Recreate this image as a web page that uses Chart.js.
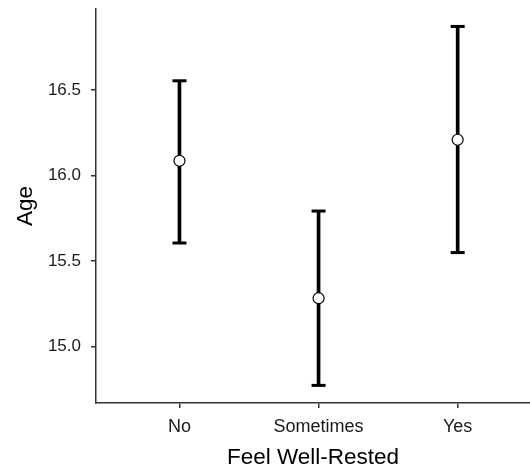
<!DOCTYPE html>
<html>
<head>
<meta charset="utf-8">
<script src="https://cdn.jsdelivr.net/npm/chart.js@4/dist/chart.umd.min.js"></script>
<style>
  html, body { margin: 0; padding: 0; background: #fff; }
  canvas { display: block; }
</style>
</head>
<body>
<canvas id="ageChart" width="530" height="471"></canvas>
<script>
// mean age with confidence interval per answer
const categories = ['No', 'Sometimes', 'Yes'];
const meanAge = [16.086, 15.282, 16.209];
const lowerCI = [15.605, 14.772, 15.549];
const upperCI = [16.554, 15.792, 16.872];
const yTicks = [15.0, 15.5, 16.0, 16.5];

const fontFamily = "'Liberation Sans', Arial, Helvetica, sans-serif";
const axisColor = '#333333';

function toPoints(values) {
    return values.map((v, i) => ({ x: i + 1, y: v }));
}

const ranges = categories.map((c, i) => ({ x: i + 1, y: [lowerCI[i], upperCI[i]] }));

const dataset = {
    datasets: [
        {
            type: 'scatter',
            label: 'mean',
            data: toPoints(meanAge),
            pointStyle: 'circle',
            pointRadius: 5.5,
            pointBackgroundColor: '#ffffff',
            pointBorderColor: '#000000',
            pointBorderWidth: 1.2,
            order: 0
        },
        {
            type: 'scatter',
            label: 'caps',
            data: toPoints(lowerCI).concat(toPoints(upperCI)),
            pointStyle: 'line',
            pointRadius: 7,
            pointBorderColor: '#000000',
            pointBorderWidth: 3,
            order: 1
        },
        {
            type: 'bar',
            label: 'ci',
            data: ranges,
            backgroundColor: '#000000',
            borderWidth: 0,
            barThickness: 3,
            order: 2
        }
    ]
};

const config = {
    type: 'scatter',
    data: dataset,
    options: {
        responsive: false,
        animation: false,
        layout: { autoPadding: false, padding: { top: 9, right: 0, left: 0, bottom: 0 } },
        plugins: {
            legend: { display: false },
            tooltip: { enabled: false }
        },
        scales: {
            x: {
                type: 'linear',
                min: 0.4,
                max: 3.52,
                offset: false,
                afterBuildTicks: (scale) => {
                    scale.ticks = categories.map((c, i) => ({ value: i + 1 }));
                },
                afterFit: (scale) => {
                    scale.height = 68;
                    scale.paddingLeft = 0;
                    scale.paddingRight = 0;
                },
                grid: {
                    offset: false,
                    drawOnChartArea: false,
                    drawTicks: true,
                    tickLength: 5,
                    color: axisColor,
                    lineWidth: 1.5
                },
                border: { display: true, color: axisColor, width: 1.5 },
                ticks: {
                    padding: 8,
                    color: '#1a1a1a',
                    font: { family: fontFamily, size: 18 },
                    maxRotation: 0,
                    autoSkip: false,
                    callback: (value) => categories[Math.round(value) - 1]
                },
                title: {
                    display: true,
                    text: 'Feel Well-Rested',
                    color: '#000000',
                    font: { family: fontFamily, size: 22.5, lineHeight: 1.2 },
                    padding: { top: 0, bottom: 0 }
                }
            },
            y: {
                type: 'linear',
                min: 14.669,
                max: 16.974,
                afterBuildTicks: (scale) => {
                    scale.ticks = yTicks.map(v => ({ value: v }));
                },
                afterFit: (scale) => {
                    scale.width = 96;
                    scale.paddingTop = 0;
                    scale.paddingBottom = 0;
                },
                grid: {
                    drawOnChartArea: false,
                    drawTicks: true,
                    tickLength: 5,
                    color: axisColor,
                    lineWidth: 1.5
                },
                border: { display: true, color: axisColor, width: 1.5 },
                ticks: {
                    padding: 10,
                    color: '#1a1a1a',
                    font: { family: fontFamily, size: 17 },
                    callback: (value) => Number(value).toFixed(1)
                },
                title: {
                    display: true,
                    text: 'Age',
                    color: '#000000',
                    font: { family: fontFamily, size: 22.5, lineHeight: 1.2 },
                    padding: { top: 12, bottom: 0 }
                }
            }
        }
    }
};

const ctx = document.getElementById('ageChart').getContext('2d');
const myChart = new Chart(ctx, config);
</script>
</body>
</html>
